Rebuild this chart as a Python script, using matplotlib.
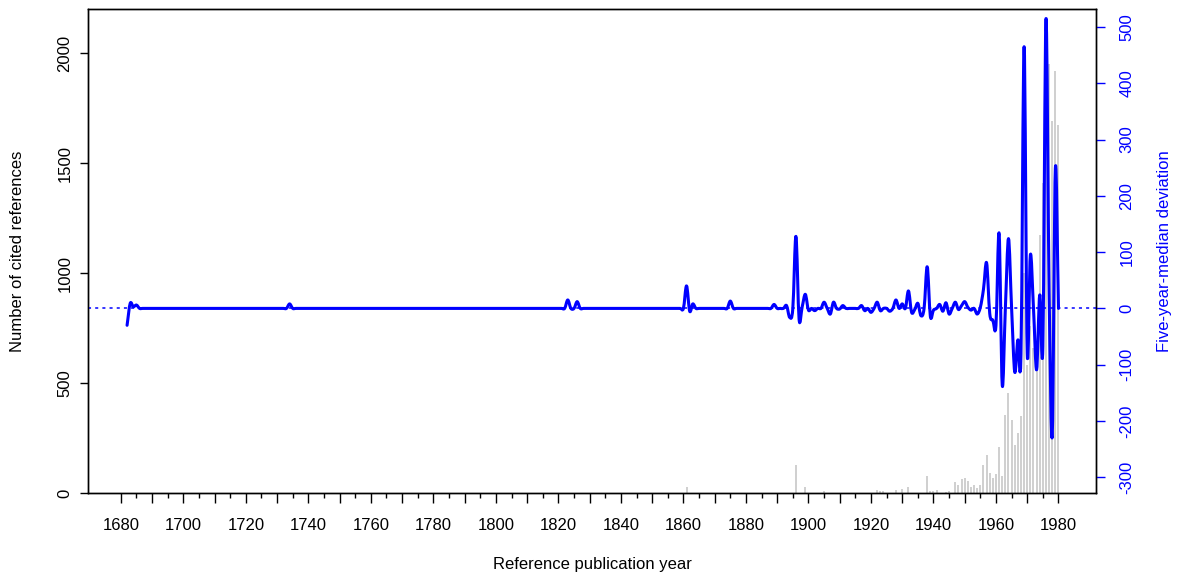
import matplotlib
matplotlib.use("Agg")
import matplotlib.pyplot as plt
from matplotlib.path import Path
from matplotlib.patches import PathPatch
import numpy as np

plt.rcParams['font.family'] = ['Liberation Sans', 'DejaVu Sans']
plt.rcParams['axes.unicode_minus'] = False

# years covered by the cited references
first_year = 1682
last_year = 1980

# number of cited references per year (years not listed are ~0)
count_years = [1861, 1896, 1899, 1905, 1922, 1923, 1924, 1928, 1930, 1932,
               1938, 1939, 1940, 1941, 1944, 1945, 1947, 1948, 1949, 1950,
               1951, 1952, 1953, 1954, 1955, 1956, 1957, 1958, 1959, 1960,
               1961, 1962, 1963, 1964, 1965, 1966, 1967, 1968, 1969, 1970,
               1971, 1972, 1973, 1974, 1975, 1976, 1977, 1978, 1979, 1980]
count_values = [29, 127, 27, 10, 14, 9, 7, 12, 20, 29,
                79, 7, 9, 12, 5, 8, 48, 36, 62, 70,
                55, 27, 35, 23, 38, 127, 171, 92, 70, 85,
                207, 77, 356, 455, 333, 218, 274, 348, 1000, 582,
                760, 660, 665, 1173, 1409, 2150, 1950, 1690, 1918, 1673]

# five-year-median deviation (years not listed are 0)
dev_years = [1682, 1683, 1684, 1685, 1734, 1823, 1826, 1861, 1862, 1863,
             1875, 1889, 1893, 1894, 1896, 1897, 1898, 1899, 1900, 1902,
             1905, 1907, 1908, 1910, 1911, 1917, 1918, 1920, 1922, 1923,
             1926, 1928, 1930, 1932, 1933, 1934, 1935, 1936, 1938, 1939,
             1940, 1942, 1943, 1944, 1945, 1947, 1948, 1949, 1950, 1951,
             1952, 1954, 1955, 1956, 1957, 1958, 1959, 1960, 1961, 1962,
             1964, 1966, 1967, 1968, 1969, 1970, 1971, 1973, 1974, 1975,
             1976, 1977, 1978, 1979]
dev_values = [-30, 9, 3, 6, 8, 15, 12, 40, -5, 8,
              13, 7, 5, -16, 128, -19, 3, 25, -3, -4,
              11, -10, 11, -1, 5, 5, -4, -7, 11, -4,
              -5, 15, 8, 31, -7, -2, 9, -13, 74, -14,
              -3, 7, -5, 10, -10, 11, -2, 5, 12, 2,
              -3, -10, 2, 34, 81, -9, -21, -30, 133, -136,
              124, -113, -56, -81, 465, -80, 95, -109, 24, -68,
              515, 30, -225, 249]

years = np.arange(first_year, last_year + 1)
counts = np.zeros(len(years))
counts[np.searchsorted(years, count_years)] = count_values
deviation = np.zeros(len(years))
deviation[np.searchsorted(years, dev_years)] = dev_values


def smooth_path(x, y):
    # cubic bezier through every point (catmull-rom tangents), like R's spline() look
    x = np.asarray(x, float)
    y = np.asarray(y, float)
    m = np.gradient(y, x)
    verts = [(x[0], y[0])]
    codes = [Path.MOVETO]
    for i in range(len(x) - 1):
        h = x[i + 1] - x[i]
        verts += [(x[i] + h / 3, y[i] + m[i] * h / 3),
                  (x[i + 1] - h / 3, y[i + 1] - m[i + 1] * h / 3),
                  (x[i + 1], y[i + 1])]
        codes += [Path.CURVE4] * 3
    return Path(verts, codes)


fig = plt.figure(figsize=(11.8, 5.76), dpi=100)
ax = fig.add_axes([88 / 1180, 1 - 493 / 576, 1008 / 1180, 484 / 576])

# counts as thin vertical lines (R type="h")
ax.vlines(years, 0, counts, color='#cccccc', lw=1.3)
ax.set_xlim(1669.5, 1992)
ax.set_ylim(0, 2200)

ax.set_xticks(np.arange(1680, 1981, 10))
ax.set_xticklabels([str(y) if y % 20 == 0 else '' for y in range(1680, 1981, 10)])
ax.set_xticks(np.arange(1685, 1980, 10), minor=True)
ax.tick_params(axis='x', which='major', length=7, width=1, labelsize=12, pad=11)
ax.tick_params(axis='x', which='minor', length=3.5, width=1)
ax.set_yticks([0, 500, 1000, 1500, 2000])
ax.tick_params(axis='y', length=5.8, width=1, labelsize=12, pad=5.5)
for lab in ax.get_yticklabels():
    lab.set_rotation(90)
    lab.set_va('center')

# deviation on the second axis
ax2 = ax.twinx()
ax2.axhline(0, color='blue', lw=1.1, ls=(0, (2, 2.7)))
ax2.add_patch(PathPatch(smooth_path(years, deviation), fill=False,
                        edgecolor='blue', lw=2.2, joinstyle='round', capstyle='round'))
ax2.set_ylim(-328, 532)
ax2.set_yticks(np.arange(-300, 501, 100))
ax2.tick_params(axis='y', colors='blue', length=6.5, width=1, labelsize=12, pad=10.5)
for lab in ax2.get_yticklabels():
    lab.set_rotation(90)
    lab.set_va('center')

for sp in ax.spines.values():
    sp.set_linewidth(1)
for sp in ax2.spines.values():
    sp.set_linewidth(1)

fig.text(592 / 1180, 1 - 565 / 576, 'Reference publication year',
         ha='center', va='center', fontsize=12)
fig.text(18 / 1180, 1 - 251 / 576, 'Number of cited references',
         ha='center', va='center', rotation=90, fontsize=12)
fig.text(1165 / 1180, 1 - 251 / 576, 'Five-year-median deviation',
         ha='center', va='center', rotation=90, fontsize=12, color='blue')

fig.savefig('out.png', dpi=100)
